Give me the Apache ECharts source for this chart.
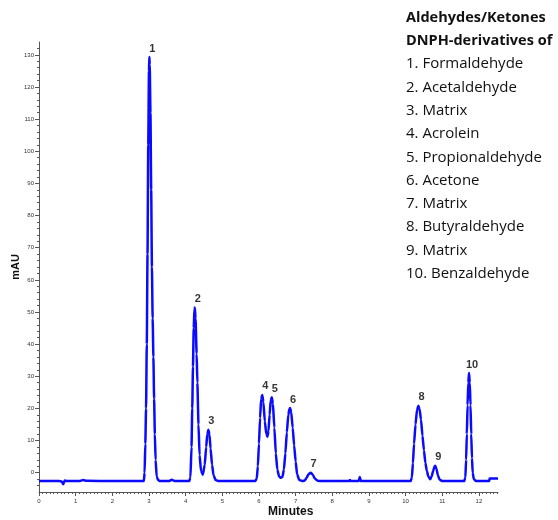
<!DOCTYPE html>
<html>
<head>
<meta charset="utf-8">
<title>DNPH-derivatives of Aldehydes/Ketones</title>
<script src="https://cdn.jsdelivr.net/npm/echarts@6/dist/echarts.min.js"></script>
<style>
  html, body { margin: 0; padding: 0; background: #ffffff; }
  #chart { width: 558px; height: 520px; }
</style>
</head>
<body>
<div id="chart"></div>
<script>
// Chromatogram trace: retention time (min) and detector response (mAU)
const retentionTime = [
  0.00, 0.55, 0.62, 0.66, 0.70, 0.75, 1.10, 1.20, 1.30, 2.00, 2.86,
  2.88, 2.90, 2.92, 2.94, 2.96, 2.98, 3.00, 3.01, 3.02, 3.04, 3.06, 3.08, 3.10, 3.12, 3.14, 3.16, 3.18, 3.21, 3.25, 3.30,
  3.55, 3.62, 3.70,
  4.10, 4.13, 4.16, 4.18, 4.20, 4.22, 4.24, 4.25, 4.27, 4.30, 4.32, 4.35, 4.38, 4.42, 4.47,
  4.52, 4.56, 4.59, 4.62, 4.65, 4.68, 4.72, 4.76, 4.82, 4.90,
  5.90, 5.94, 5.97, 6.00, 6.03, 6.06, 6.09, 6.12, 6.16, 6.20, 6.23, 6.26, 6.29, 6.32, 6.35, 6.38, 6.42, 6.46, 6.50, 6.55, 6.60,
  6.64, 6.68, 6.72, 6.76, 6.80, 6.83, 6.85, 6.88, 6.92, 6.96, 7.00, 7.04, 7.10, 7.20,
  7.25, 7.30, 7.35, 7.41, 7.47, 7.52, 7.60, 7.70,
  8.45, 8.48, 8.51, 8.72, 8.75, 8.78,
  10.14, 10.17, 10.20, 10.23, 10.27, 10.31, 10.35, 10.38, 10.42, 10.46, 10.50, 10.54, 10.58, 10.62, 10.67,
  10.71, 10.75, 10.79, 10.81, 10.84, 10.88, 10.93, 11.00,
  11.60, 11.63, 11.65, 11.67, 11.69, 11.71, 11.73, 11.75, 11.77, 11.79, 11.81, 11.83, 11.86, 11.92,
  12.28, 12.29, 12.52
];
const absorbance = [
  -2.6, -2.6, -2.7, -3.6, -2.4, -2.6, -2.6, -2.3, -2.5, -2.6, -2.6,
  0.0, 9.0, 20.0, 40.0, 68.0, 102.0, 125.0, 129.3, 127.0, 112.0, 88.0, 64.0, 48.0, 36.0, 23.0, 12.0, 4.0, -1.2, -2.3, -2.6,
  -2.6, -2.2, -2.6,
  -2.6, -1.5, 8.0, 20.0, 33.0, 45.0, 51.0, 51.4, 48.0, 37.0, 28.0, 15.0, 5.5, 0.5, -0.6,
  2.5, 8.0, 12.0, 13.4, 11.8, 7.5, 2.5, -0.8, -2.3, -2.6,
  -2.6, -1.8, 2.0, 9.0, 17.0, 23.0, 24.2, 22.0, 16.0, 12.0, 11.2, 13.0, 18.0, 22.5, 23.5, 21.5, 14.0, 6.0, 1.0, -1.2, -1.6,
  -1.3, 1.0, 6.0, 12.5, 18.0, 19.8, 20.1, 18.8, 14.0, 8.5, 3.5, -0.5, -2.3, -2.6,
  -2.4, -1.6, -0.5, 0.0, -0.6, -1.8, -2.5, -2.6,
  -2.6, -2.3, -2.6, -2.6, -1.3, -2.6,
  -2.6, -1.5, 3.0, 9.0, 15.0, 19.5, 20.8, 19.8, 16.5, 11.5, 7.0, 3.0, 0.5, -1.2, -2.0,
  -1.2, 0.5, 2.0, 2.2, 1.2, -0.8, -2.2, -2.6,
  -2.6, -1.5, 4.0, 12.0, 21.0, 28.0, 31.0, 28.0, 21.0, 12.0, 4.5, 0.0, -2.0, -2.6,
  -2.6, -1.8, -1.8
];

// Numbered peaks: apex retention time and height
const peakNumbers = ['1', '2', '3', '4', '5', '6', '7', '8', '9', '10'];
const peakTimes   = [3.01, 4.25, 4.62, 6.09, 6.35, 6.85, 7.41, 10.35, 10.81, 11.73];
const peakHeights = [129.3, 51.4, 13.4, 24.2, 23.5, 20.1, 0.0, 20.8, 2.2, 31.0];

// Compound key
const keyTitle = ['Aldehydes/Ketones', 'DNPH-derivatives of'];
const compoundNames = [
  '1. Formaldehyde', '2. Acetaldehyde', '3. Matrix', '4. Acrolein',
  '5. Propionaldehyde', '6. Acetone', '7. Matrix', '8. Butyraldehyde',
  '9. Matrix', '10. Benzaldehyde'
];

// Axis tick labels
const xTickLabels = [0, 1, 2, 3, 4, 5, 6, 7, 8, 9, 10, 11, 12];
const yTickLabels = [0, 10, 20, 30, 40, 50, 60, 70, 80, 90, 100, 110, 120, 130];

const Y_MIN = -6, Y_MAX = 134, X_MIN = 0, X_MAX = 12.52;

// minor tick positions
const yMinor = [];
for (let v = -4; v <= 132; v += 2) yMinor.push(v);
const xMinor = [];
for (let k = 0; k <= 125; k++) xMinor.push(k / 10);

const trace = retentionTime.map((t, i) => [t, absorbance[i]]);
const peaks = peakTimes.map((t, i) => ({ value: [t, peakHeights[i]], name: peakNumbers[i] }));

const axisColor = '#555555';
const tickFont = { fontSize: 6, color: '#333333', fontFamily: 'Liberation Sans, Arial, sans-serif' };

const keyLines = keyTitle.map((s, i) => ({
  type: 'text', left: 406, top: 10 + i * 23.3,
  style: { text: s, font: 'bold 14.5px "Open Sans", sans-serif', fill: '#111111' }
})).concat(compoundNames.map((s, i) => ({
  type: 'text', left: 406, top: 10 + (i + 2) * 23.3,
  style: { text: s, font: '15px "Open Sans", sans-serif', fill: '#111111' }
})));

const chart = echarts.init(document.getElementById('chart'), null, { renderer: 'canvas' });
chart.setOption({
  animation: false,
  backgroundColor: '#ffffff',
  grid: { left: 39, right: 60, top: 42, bottom: 28, containLabel: false, outerBoundsMode: 'none' },
  xAxis: [{
    type: 'value', min: X_MIN, max: X_MAX,
    axisLine: { show: true, onZero: false, lineStyle: { color: axisColor, width: 1 } },
    axisTick: { show: true, customValues: xTickLabels, length: 4, lineStyle: { color: axisColor } },
    axisLabel: Object.assign({ customValues: xTickLabels, margin: 6 }, tickFont),
    splitLine: { show: false }
  }, {
    type: 'value', min: X_MIN, max: X_MAX, position: 'bottom',
    axisLine: { show: false, onZero: false },
    axisTick: { show: true, customValues: xMinor, length: 2, lineStyle: { color: axisColor } },
    axisLabel: { show: false },
    splitLine: { show: false }
  }],
  yAxis: [{
    type: 'value', min: Y_MIN, max: Y_MAX,
    name: 'mAU', nameLocation: 'middle', nameGap: 18, nameMoveOverlap: false,
    nameTextStyle: { fontSize: 11, fontWeight: 'bold', color: '#111111', fontFamily: 'Liberation Sans, Arial, sans-serif' },
    axisLine: { show: true, onZero: false, lineStyle: { color: axisColor, width: 1 } },
    axisTick: { show: true, customValues: yTickLabels, length: 4, lineStyle: { color: axisColor } },
    axisLabel: Object.assign({ customValues: yTickLabels, margin: 5 }, tickFont),
    splitLine: { show: false }
  }, {
    type: 'value', min: Y_MIN, max: Y_MAX, position: 'left',
    axisLine: { show: false, onZero: false },
    axisTick: { show: true, customValues: yMinor, length: 2, lineStyle: { color: axisColor } },
    axisLabel: { show: false },
    splitLine: { show: false }
  }],
  graphic: keyLines.concat([{
    type: 'text', left: 268, top: 506,
    style: { text: 'Minutes', font: 'bold 12px "Liberation Sans", Arial, sans-serif', fill: '#111111' }
  }]),
  series: [{
    type: 'line',
    data: trace,
    showSymbol: false,
    smooth: 0.2,
    smoothMonotone: 'x',
    lineStyle: { color: '#0a0aff', width: 2.5 },
    z: 2
  }, {
    type: 'scatter',
    data: peaks,
    symbolSize: 0,
    label: {
      show: true, position: 'top', distance: 3, offset: [3, 0],
      formatter: p => p.name,
      fontSize: 11, fontWeight: 'bold', color: '#000000',
      fontFamily: 'Liberation Sans, Arial, sans-serif'
    },
    z: 3
  }]
});
</script>
</body>
</html>
